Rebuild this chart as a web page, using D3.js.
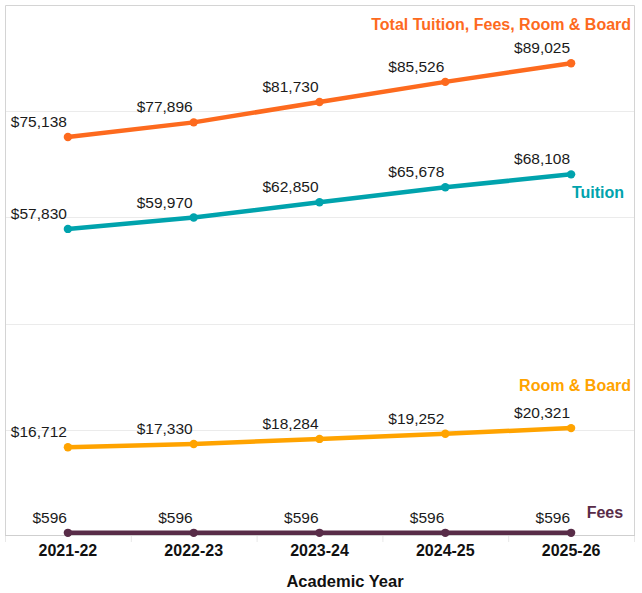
<!DOCTYPE html>
<html>
<head>
<meta charset="utf-8">
<script src="https://cdn.jsdelivr.net/npm/d3@7"></script>
<style>
	body { margin: 0; background: #fff; }
	text { font-family: "Liberation Sans", Arial, sans-serif; }
</style>
</head>
<body>
<div id="chart"></div>
<script>
let years = ['2021-22', '2022-23', '2023-24', '2024-25', '2025-26']

let total = [75138, 77896, 81730, 85526, 89025]
let tuition = [57830, 59970, 62850, 65678, 68108]
let roomBoard = [16712, 17330, 18284, 19252, 20321]
let fees = [596, 596, 596, 596, 596]

let seriesNames = ['Total Tuition, Fees, Room & Board', 'Tuition', 'Room & Board', 'Fees']
let gridValues = [20000, 40000, 60000, 80000]

function init(){
	let series = [
		{'name': seriesNames[0], 'values': total, 'colour': '#FD6A1E', 'dx': 60, 'dy': -33},
		{'name': seriesNames[1], 'values': tuition, 'colour': '#00A3AD', 'dx': 53, 'dy': 24},
		{'name': seriesNames[2], 'values': roomBoard, 'colour': '#FFA300', 'dx': 60, 'dy': -37},
		{'name': seriesNames[3], 'values': fees, 'colour': '#582C48', 'dx': 52, 'dy': -15}
	]
	createChart(series)
}

function createChart(series){
	let width = 642, height = 593
	let left = 5, right = 634, top = 5, bottom = 535

	let svg = d3.select('#chart')
	  .append('svg')
	    .attr('width', width)
	    .attr('height', height)

	let x = d3.scaleBand()
	  .domain(years)
	  .range([left, right])

	let y = d3.scaleLinear()
	  .domain([0, 100000])
	  .range([bottom + 1, top])

	// gridlines
	svg.selectAll('.grid')
		.data(gridValues)
		.enter()
		.append('line')
		.attr('x1', left)
		.attr('x2', right)
		.attr('y1', function(d){ return Math.round(y(d)) + 0.5 })
		.attr('y2', function(d){ return Math.round(y(d)) + 0.5 })
		.attr('stroke', '#ebebeb')
		.attr('stroke-width', 1)

	// frame
	svg.append('path')
		.attr('d', `M${left + 0.5},${bottom}V${top + 0.5}H${right + 0.5}V${bottom}`)
		.attr('fill', 'none')
		.attr('stroke', '#d4d4d4')

	// x axis
	let xAxis = svg.append('g')
		.attr('transform', 'translate(0,' + (bottom + 0.5) + ')')
		.call(d3.axisBottom(x).tickSize(0).tickPadding(0))
	xAxis.select('.domain').attr('stroke', '#cfcfcf').attr('d', `M${left},0H${right + 1}`)
	xAxis.selectAll('text')
		.attr('dy', 0)
		.attr('y', 20)
		.attr('font-family', '"Liberation Sans", Arial, sans-serif')
		.attr('font-size', '16px')
		.attr('font-weight', 'bold')
		.attr('fill', '#111')

	// separators between categories
	svg.selectAll('.sep')
		.data(years.concat(['end']))
		.enter()
		.append('line')
		.attr('x1', function(d, i){ return left + 0.5 + i * x.step() })
		.attr('x2', function(d, i){ return left + 0.5 + i * x.step() })
		.attr('y1', bottom + 1)
		.attr('y2', bottom + 7)
		.attr('stroke', '#e8e8e8')

	svg.append('text')
		.attr('x', 345)
		.attr('y', 587)
		.attr('text-anchor', 'middle')
		.attr('font-size', '16.5px')
		.attr('font-weight', 'bold')
		.attr('fill', '#111')
		.text('Academic Year')

	let cx = function(d, i){ return x(years[i]) + x.bandwidth() / 2 }

	series.forEach(function(s){
		let pts = s.values.map(function(v, i){ return {'x': cx(v, i), 'y': y(v), 'v': v} })

		svg.append('path')
			.datum(pts)
			.attr('fill', 'none')
			.attr('stroke', s.colour)
			.attr('stroke-width', 4.5)
			.attr('d', d3.line()
				.x(function(d){ return d.x })
				.y(function(d){ return d.y })
			)

		svg.selectAll(null)
			.data(pts)
			.enter()
			.append('circle')
			.attr('cx', function(d){ return d.x })
			.attr('cy', function(d){ return d.y })
			.attr('r', 4.2)
			.attr('fill', s.colour)

		svg.selectAll(null)
			.data(pts)
			.enter()
			.append('text')
			.attr('x', function(d){ return d.x - 1 })
			.attr('y', function(d){ return d.y - 10 })
			.attr('text-anchor', 'end')
			.attr('font-size', '15.5px')
			.attr('fill', '#1a1a1a')
			.text(function(d){ return '$' + d3.format(',')(d.v) })

		let last = pts[pts.length - 1]
		svg.append('text')
			.attr('x', last.x + s.dx)
			.attr('y', last.y + s.dy)
			.attr('text-anchor', 'end')
			.attr('font-size', '16px')
			.attr('font-weight', 'bold')
			.attr('fill', s.colour)
			.text(s.name)
	})
}

init()
</script>
</body>
</html>
